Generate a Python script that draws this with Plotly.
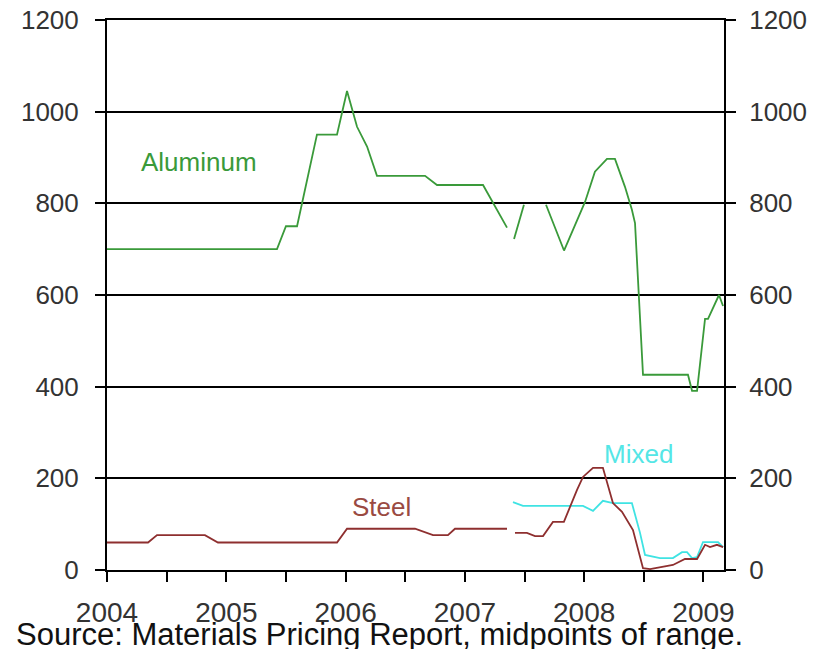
import plotly.graph_objects as go

# ---- data (decimal years, $/ton midpoints) ----
al_year = [2004.0, 2005.425, 2005.50, 2005.593, 2005.76, 2005.928, 2006.012, 2006.096, 2006.18,
           2006.263, 2006.666, 2006.766, 2007.152, 2007.353, None, 2007.412, 2007.495, None,
           2007.68, 2007.831, 2008.007, 2008.09, 2008.191, 2008.258, 2008.342, 2008.40, 2008.426,
           2008.459, 2008.493, 2008.87, 2008.904, 2008.946, 2009.013, 2009.038, 2009.08, 2009.13,
           2009.164]
al_val = [700, 700, 750, 750, 950, 950, 1045, 967, 924,
          860, 860, 840, 840, 747, None, 722, 797, None,
          797, 697, 803, 869, 897, 897, 836, 786, 757,
          600, 426, 426, 391, 391, 548, 548, 572, 600,
          576]

st_year = [2004.0, 2004.344, 2004.419, 2004.821, 2004.93, 2005.928, 2006.012, 2006.582, 2006.733,
           2006.858, 2006.917, 2007.353, None, 2007.42, 2007.52, 2007.588, 2007.655, 2007.738,
           2007.83, 2007.94, 2007.99, 2008.074, 2008.157, 2008.241, 2008.317, 2008.409, 2008.493,
           2008.552, 2008.744, 2008.845, 2008.946, 2009.013, 2009.055, 2009.113, 2009.164]
st_val = [60, 60, 76, 76, 60, 60, 90, 90, 76,
          76, 90, 90, None, 81, 81, 74, 74, 105,
          105, 175, 203, 223, 223, 146, 127, 87, 4,
          2, 11, 24, 24, 55, 50, 55, 50]

mx_year = [2007.403, 2007.487, 2007.99, 2008.074, 2008.157, 2008.241, 2008.40, 2008.468, 2008.51,
           2008.635, 2008.744, 2008.82, 2008.862, 2008.904, 2008.946, 2008.996, 2009.122, 2009.164]
mx_val = [148, 140, 140, 129, 151, 146, 146, 81, 33,
          26, 26, 39, 39, 26, 28, 61, 61, 50]

x_tickvals = [2004, 2004.5, 2005, 2005.5, 2006, 2006.5, 2007, 2007.5, 2008, 2008.5, 2009]
x_ticktext = ["2004", "", "2005", "", "2006", "", "2007", "", "2008", "", "2009"]
y_tickvals = [0, 200, 400, 600, 800, 1000, 1200]

FONT = "Liberation Sans, Arial, sans-serif"
AL_COLOR = "#3a9a3a"
ST_COLOR = "#8e2f2f"
MX_COLOR = "#3fe3e3"

fig = go.Figure()
fig.add_trace(go.Scatter(x=al_year, y=al_val, mode="lines", name="Aluminum",
                         line=dict(color=AL_COLOR, width=1.8), yaxis="y"))
fig.add_trace(go.Scatter(x=mx_year, y=mx_val, mode="lines", name="Mixed",
                         line=dict(color=MX_COLOR, width=1.8), yaxis="y2"))
fig.add_trace(go.Scatter(x=st_year, y=st_val, mode="lines", name="Steel",
                         line=dict(color=ST_COLOR, width=1.8), yaxis="y2"))

axis_common = dict(range=[0, 1200], tickvals=y_tickvals, showline=True, linecolor="black",
                   linewidth=2, ticks="outside", ticklen=10, tickwidth=1.5, tickcolor="black",
                   tickfont=dict(family=FONT, size=26, color="#333333"), zeroline=False,
                   fixedrange=True, automargin=False)

fig.update_layout(
    width=823, height=649,
    margin=dict(l=107, r=99, t=20, b=79, autoexpand=False),
    paper_bgcolor="white", plot_bgcolor="white",
    showlegend=False,
    font=dict(family=FONT, color="#333333"),
    xaxis=dict(range=[2004, 2009.172], tickvals=x_tickvals, ticktext=x_ticktext,
               showline=True, linecolor="black", linewidth=2, mirror=True,
               ticks="outside", ticklen=10, tickwidth=1.5, tickcolor="black",
               showgrid=False, zeroline=False, automargin=False, ticklabelstandoff=6,
               fixedrange=True,
               tickfont=dict(family=FONT, size=28, color="#333333")),
    yaxis=dict(side="left", showgrid=True, gridcolor="black", gridwidth=1.5,
               ticklabelstandoff=11, **axis_common),
    yaxis2=dict(side="right", overlaying="y", anchor="x", showgrid=False,
                ticklabelstandoff=8, **axis_common),
)

fig.add_annotation(x=2004.775, y=891, xref="x", yref="y", text="Aluminum", showarrow=False,
                   font=dict(family=FONT, size=26, color=AL_COLOR))
fig.add_annotation(x=2006.297, y=137, xref="x", yref="y", text="Steel", showarrow=False,
                   font=dict(family=FONT, size=26, color="#9a4a42"))
fig.add_annotation(x=2008.459, y=253, xref="x", yref="y", text="Mixed", showarrow=False,
                   font=dict(family=FONT, size=26, color="#55e6e6"))
fig.add_annotation(x=-0.150, y=-0.117, xref="paper", yref="paper", xanchor="left", yanchor="middle",
                   text="Source: Materials Pricing Report, midpoints of range.", showarrow=False,
                   font=dict(family=FONT, size=31, color="#111111"))

fig.write_html("out.html", config={"displayModeBar": False},
               post_script="document.body.style.margin='0';")
